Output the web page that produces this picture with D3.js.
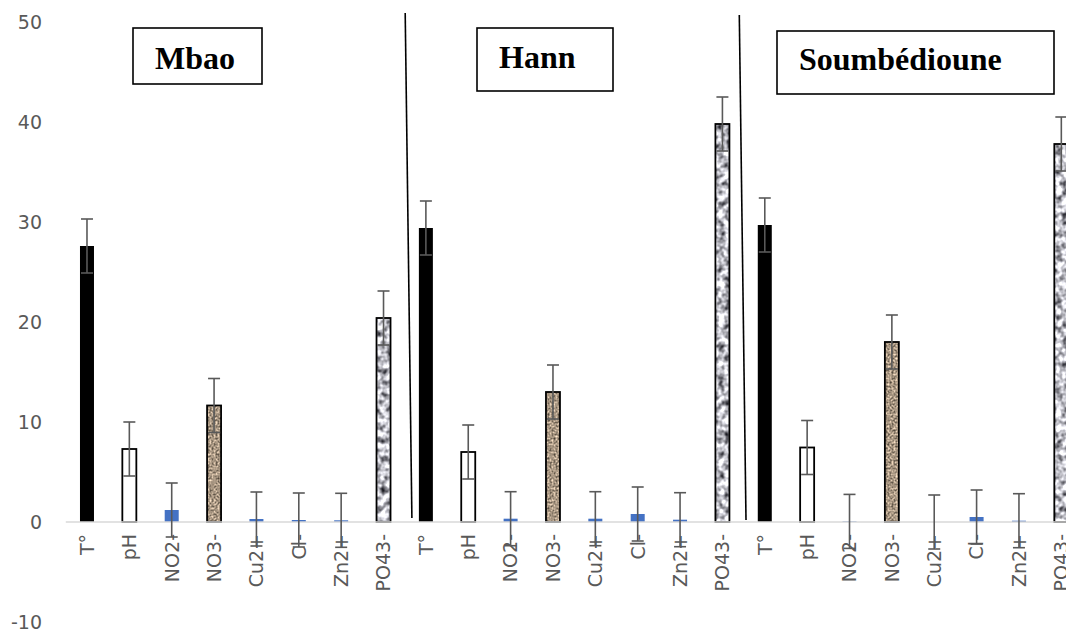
<!DOCTYPE html>
<html>
<head>
<meta charset="utf-8">
<script src="https://cdn.jsdelivr.net/npm/d3@7"></script>
<style>
  body { margin: 0; background: #fff; }
  svg { display: block; }
</style>
</head>
<body>
<svg id="chart"></svg>
<script>
// values
const sites = ['Mbao', 'Hann', 'Soumbédioune']
const params = ['T°', 'pH', 'NO2-', 'NO3-', 'Cu2+', 'Cl-', 'Zn2+', 'PO43-']
const mbaoValues = [27.6, 7.3, 1.2, 11.65, 0.3, 0.2, 0.17, 20.4]
const hannValues = [29.4, 7.0, 0.33, 13.0, 0.33, 0.8, 0.23, 39.8]
const soumbediouneValues = [29.7, 7.45, 0.06, 18.0, 0.0, 0.5, 0.13, 37.8]
const siteErrors = [2.7, 2.7, 2.7]
const yTicks = [-10, 0, 10, 20, 30, 40, 50]

const width = 1066, height = 634

// bar look per parameter
const barStyle = {
  'T°':   {fill: '#000000', stroke: 'none'},
  'pH':   {fill: '#ffffff', stroke: '#000000'},
  'NO2-': {fill: '#4472c4', stroke: 'none'},
  'NO3-': {fill: 'granite', stroke: '#000000'},
  'Cu2+': {fill: '#4472c4', stroke: 'none'},
  'Cl-':  {fill: '#4472c4', stroke: 'none'},
  'Zn2+': {fill: '#4472c4', stroke: 'none'},
  'PO43-':{fill: 'marble', stroke: '#000000'}
}

const allValues = [mbaoValues, hannValues, soumbediouneValues]
const data = []
sites.forEach((s, i) => {
  params.forEach((p, j) => {
    data.push({site: s, param: p, key: s + '|' + p, value: allValues[i][j], err: siteErrors[i]})
  })
})

const svg = d3.select('#chart').attr('width', width).attr('height', height)

const x = d3.scaleBand()
  .domain(data.map(d => d.key))
  .range([65.8, 1082.5])
const y = d3.scaleLinear().domain([-10, 50]).range([622, 22])

const barW = 14, capW = 12

// textures
const defs = svg.append('defs')
const granite = defs.append('filter').attr('id', 'granite')
  .attr('x', 0).attr('y', 0).attr('width', 1).attr('height', 1)
  .attr('color-interpolation-filters', 'sRGB')
granite.append('feTurbulence').attr('type', 'fractalNoise')
  .attr('baseFrequency', 0.5).attr('numOctaves', 3).attr('seed', 4).attr('result', 'n')
granite.append('feColorMatrix').attr('in', 'n').attr('type', 'matrix')
  .attr('values', '1.1 0 0 0 0.11  1.0 0 0 0 0.09  0.9 0 0 0 0.06  0 0 0 0 1')
  .attr('result', 'c')
granite.append('feComposite').attr('in', 'c').attr('in2', 'SourceGraphic').attr('operator', 'in')

const marble = defs.append('filter').attr('id', 'marble')
  .attr('x', 0).attr('y', 0).attr('width', 1).attr('height', 1)
  .attr('color-interpolation-filters', 'sRGB')
marble.append('feTurbulence').attr('type', 'fractalNoise')
  .attr('baseFrequency', 0.16).attr('numOctaves', 2).attr('seed', 9).attr('result', 'n')
marble.append('feColorMatrix').attr('in', 'n').attr('type', 'matrix')
  .attr('values', '1.7 0 0 0 -0.1  1.7 0 0 0 -0.1  1.7 0 0 0 -0.07  0 0 0 0 1')
  .attr('result', 'c')
marble.append('feComposite').attr('in', 'c').attr('in2', 'SourceGraphic').attr('operator', 'in')

// y tick labels
svg.append('g')
  .selectAll('text')
  .data(yTicks)
  .join('text')
  .attr('x', 42)
  .attr('y', d => y(d))
  .attr('dy', '0.36em')
  .attr('text-anchor', 'end')
  .attr('font-family', 'DejaVu Sans, sans-serif')
  .attr('font-size', 19)
  .attr('fill', '#595959')
  .text(d => d)

// bars
const bars = svg.append('g')
const cx = d => x(d.key) + x.bandwidth() / 2
const barY = d => Math.min(y(d.value), y(0))
const barH = d => Math.abs(y(0) - y(d.value))

bars.selectAll('rect.bar')
  .data(data)
  .join('rect')
  .attr('class', 'bar')
  .attr('x', d => cx(d) - barW / 2)
  .attr('y', barY)
  .attr('width', barW)
  .attr('height', barH)
  .attr('fill', d => {
    let f = barStyle[d.param].fill
    return (f === 'granite' || f === 'marble') ? '#888' : f
  })
  .attr('filter', d => {
    let f = barStyle[d.param].fill
    return (f === 'granite' || f === 'marble') ? 'url(#' + f + ')' : null
  })

// outlines on top of textured / white bars
bars.selectAll('rect.outline')
  .data(data.filter(d => barStyle[d.param].stroke !== 'none'))
  .join('rect')
  .attr('class', 'outline')
  .attr('x', d => cx(d) - barW / 2)
  .attr('y', barY)
  .attr('width', barW)
  .attr('height', barH)
  .attr('fill', 'none')
  .attr('stroke', '#000')
  .attr('stroke-width', 1.8)

// zero line
svg.append('line')
  .attr('x1', x.range()[0]).attr('x2', width)
  .attr('y1', y(0)).attr('y2', y(0))
  .attr('stroke', '#d9d9d9')
  .attr('stroke-width', 1.5)

// error bars
const errG = svg.append('g')
  .attr('stroke', '#595959')
  .attr('stroke-width', 1.6)
  .selectAll('g')
  .data(data)
  .join('g')
errG.append('line')
  .attr('x1', cx).attr('x2', cx)
  .attr('y1', d => y(d.value + d.err)).attr('y2', d => y(d.value - d.err))
errG.append('line')
  .attr('x1', d => cx(d) - capW / 2).attr('x2', d => cx(d) + capW / 2)
  .attr('y1', d => y(d.value + d.err)).attr('y2', d => y(d.value + d.err))
errG.append('line')
  .attr('x1', d => cx(d) - capW / 2).attr('x2', d => cx(d) + capW / 2)
  .attr('y1', d => y(d.value - d.err)).attr('y2', d => y(d.value - d.err))

// x labels, rotated
svg.append('g')
  .selectAll('text')
  .data(data)
  .join('text')
  .attr('transform', d => 'translate(' + cx(d) + ',' + (y(0) + 12) + ') rotate(-90)')
  .attr('dy', '0.36em')
  .attr('text-anchor', 'end')
  .attr('font-family', 'DejaVu Sans, sans-serif')
  .attr('font-size', 19)
  .attr('fill', '#595959')
  .text(d => d.param)

// separators between sites (hand drawn, slightly slanted)
const sepOffsets = [[0.5, 7.2], [-4.3, 2.4]]
sites.slice(1).forEach((s, i) => {
  let bx = x(s + '|' + params[0])
  svg.append('line')
    .attr('x1', bx + sepOffsets[i][0]).attr('y1', i === 0 ? 13 : 15)
    .attr('x2', bx + sepOffsets[i][1]).attr('y2', i === 0 ? 518 : 520)
    .attr('stroke', '#000')
    .attr('stroke-width', 1.6)
})

// site name boxes
const boxes = [
  {x: 133, y: 28, w: 129, h: 56, ty: 69},
  {x: 477, y: 28, w: 136, h: 63, ty: 68},
  {x: 777, y: 31, w: 277, h: 63, ty: 70}
]
sites.forEach((s, i) => {
  let b = boxes[i]
  svg.append('rect')
    .attr('x', b.x).attr('y', b.y)
    .attr('width', b.w).attr('height', b.h)
    .attr('fill', '#fff')
    .attr('stroke', '#000')
    .attr('stroke-width', 1.6)
  svg.append('text')
    .attr('x', b.x + 22).attr('y', b.ty)
    .attr('font-family', 'Liberation Serif, Times New Roman, serif')
    .attr('font-weight', 'bold')
    .attr('font-size', 32)
    .attr('fill', '#000')
    .text(s)
})
</script>
</body>
</html>
